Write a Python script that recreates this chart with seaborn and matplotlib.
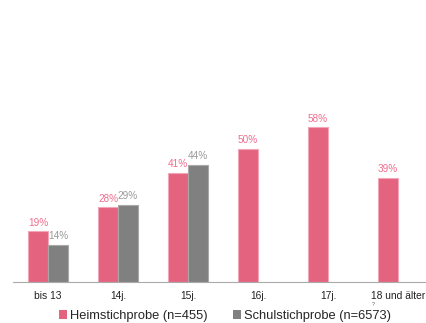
import numpy as np
import pandas as pd
import matplotlib
matplotlib.use("Agg")
import matplotlib.pyplot as plt
import seaborn as sns
from matplotlib.patches import Patch

categories = ["bis 13", "14j.", "15j.", "16j.", "17j.", "18 und älter"]
heim_values = [19, 28, 41, 50, 58, 39]
schul_values = [14, 29, 44, np.nan, np.nan, np.nan]
series_names = ["Heimstichprobe (n=455)", "Schulstichprobe (n=6573)"]

pink = "#E4637F"
gray = "#808080"
pink_lbl = "#EF6E8E"
gray_lbl = "#9A9A9A"

df = pd.DataFrame({
    "cat": categories * 2,
    "val": heim_values + schul_values,
    "series": [series_names[0]] * len(categories) + [series_names[1]] * len(categories),
})

sns.set_theme(style="white")
plt.rcParams["font.family"] = ["Liberation Sans", "DejaVu Sans"]

fig = plt.figure(figsize=(4.27, 3.23), dpi=100)
ax = fig.add_axes([13 / 427, 41 / 323, 420 / 427, 267 / 323])

sns.barplot(data=df, x="cat", y="val", hue="series", order=categories,
            hue_order=series_names, palette=[pink, gray], width=0.571,
            ax=ax, legend=False, linewidth=0.8, saturation=1)

for patch in ax.patches:
    fc = patch.get_facecolor()
    if abs(fc[1] - 0.5) < 0.02:
        patch.set_edgecolor("#A8A8A8")
    else:
        patch.set_edgecolor("#F2A6B8")

for cont, col in zip(ax.containers, [pink_lbl, gray_lbl]):
    vals = [b.get_height() for b in cont]
    labels = ["" if (v != v) else f"{v:.0f}%" for v in vals]
    ax.bar_label(cont, labels=labels, color=col, fontsize=7.2, padding=2.5)

ax.set_xlim(-0.5, 5.5)
ax.set_ylim(0, 100)
ax.set_xlabel("")
ax.set_ylabel("")
ax.set_yticks([])
for s in ["top", "right", "left"]:
    ax.spines[s].set_visible(False)
ax.spines["bottom"].set_color("#AAAAAA")
ax.spines["bottom"].set_linewidth(0.8)
ax.set_xticks(range(len(categories)))
ax.set_xticklabels(categories, fontsize=7.4, color="#222222")
ax.tick_params(axis="x", which="major", length=0, pad=6.5)
ax.set_xticks(np.arange(-0.5, len(categories), 1.0), minor=True)
ax.tick_params(axis="x", which="minor", length=3, color="#AAAAAA", width=0.8, direction="out")

ax.text(5 - 0.36, -8.3, "?", fontsize=3.8, color="#555555", ha="center", va="center")

handles = [Patch(facecolor=pink, edgecolor="none"), Patch(facecolor=gray, edgecolor="none")]
fig.legend(handles, series_names, loc="center", bbox_to_anchor=(225 / 427, 1 - 316 / 323),
           ncol=2, frameon=False, fontsize=9.3, handlelength=0.6, handleheight=0.6,
           handletextpad=0.25, columnspacing=2.0, borderpad=0)

fig.savefig("out.png", dpi=100)
